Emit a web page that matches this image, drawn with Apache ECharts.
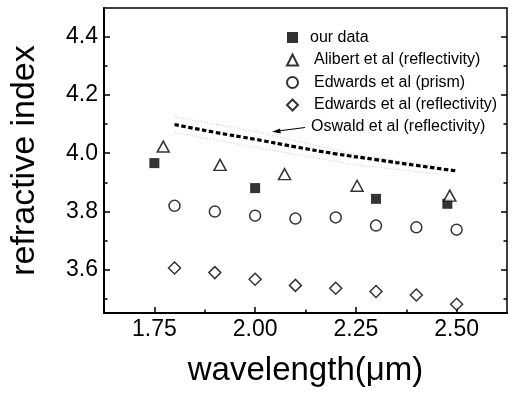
<!DOCTYPE html>
<html>
<head>
<meta charset="utf-8">
<script src="https://cdn.jsdelivr.net/npm/echarts@6/dist/echarts.min.js"></script>
<style>
  html, body { margin: 0; padding: 0; background: #fff; }
  #chart { width: 515px; height: 396px; }
</style>
</head>
<body>
<div id="chart"></div>
<script>
// values
const ourX = [1.75, 2.00, 2.30, 2.477];
const ourY = [3.966, 3.880, 3.843, 3.826];
const alibertX = [1.772, 1.913, 2.073, 2.253, 2.483];
const alibertY = [4.023, 3.960, 3.928, 3.888, 3.854];
const edwardsX = [1.80, 1.90, 2.00, 2.10, 2.20, 2.30, 2.40, 2.50];
const prismY = [3.819, 3.799, 3.785, 3.775, 3.779, 3.751, 3.745, 3.737];
const reflY = [3.605, 3.589, 3.566, 3.545, 3.535, 3.524, 3.512, 3.480];
const oswaldX = [1.80, 1.90, 2.00, 2.10, 2.20, 2.30, 2.40, 2.50];
const oswaldY = [4.099, 4.072, 4.048, 4.022, 3.998, 3.978, 3.958, 3.939];
const upperX = [1.80, 2.00, 2.25, 2.45];
const upperY = [4.125, 4.075, 3.995, 3.955];
const lowerX = [1.80, 2.00, 2.25, 2.45];
const lowerY = [4.072, 4.020, 3.960, 3.930];

const xMajor = [1.75, 2.00, 2.25, 2.50];
const xMinor = [1.875, 2.125, 2.375];
const yMajor = [3.6, 3.8, 4.0, 4.2, 4.4];
const yMinor = [3.5, 3.7, 3.9, 4.1, 4.3];

const zip = (xs, ys) => xs.map((x, i) => [x, ys[i]]);
const font = 'Liberation Sans';

const chart = echarts.init(document.getElementById('chart'));

function xAxisDef(ticks, len, withLabel) {
  return {
    type: 'value', position: 'bottom', min: 1.625, max: 2.625,
    axisLine: { show: withLabel, lineStyle: { color: '#000', width: 2 } },
    axisTick: { show: true, inside: true, length: len, customValues: ticks,
      lineStyle: { color: '#000', width: 1.5 } },
    axisLabel: { show: withLabel, customValues: ticks, margin: 5,
      formatter: v => v.toFixed(2), color: '#000', fontSize: 23, fontFamily: font },
    splitLine: { show: false },
    name: withLabel ? 'wavelength(\u03bcm)' : '',
    nameLocation: 'middle', nameGap: 41,
    nameTextStyle: { color: '#000', fontSize: 33, fontFamily: font }
  };
}

function yAxisDef(pos, ticks, len, withLabel) {
  return {
    type: 'value', position: pos, min: 3.45, max: 4.5,
    axisLine: { show: withLabel, lineStyle: { color: '#000', width: 2 } },
    axisTick: { show: true, inside: true, length: len, customValues: ticks,
      lineStyle: { color: '#000', width: 1.5 } },
    axisLabel: { show: withLabel, customValues: ticks, margin: 6,
      formatter: v => v.toFixed(1), color: '#000', fontSize: 23, fontFamily: font },
    splitLine: { show: false },
    name: withLabel ? 'refractive index' : '',
    nameLocation: 'middle', nameGap: 62,
    nameTextStyle: { color: '#000', fontSize: 34, fontFamily: font }
  };
}

const hollow = { color: '#fff', borderColor: '#000', borderWidth: 1.5 };

const option = {
  backgroundColor: '#fff',
  animation: false,
  grid: { left: 104, right: 8, top: 8, bottom: 83, show: true,
    borderColor: '#000', borderWidth: 1.5, backgroundColor: 'transparent' },
  xAxis: [
    xAxisDef(xMajor, 6, true),
    xAxisDef(xMinor, 3.5, false)
  ],
  yAxis: [
    yAxisDef('left', yMajor, 6, true),
    yAxisDef('left', yMinor, 3.5, false),
    yAxisDef('right', yMajor, 6, false),
    yAxisDef('right', yMinor, 3.5, false)
  ],
  legend: {
    orient: 'vertical', left: 281, top: 24,
    itemWidth: 11, itemHeight: 11, itemGap: 5.5,
    textStyle: { color: '#000', fontSize: 16, fontFamily: font, lineHeight: 17, padding: [0, 0, 0, 11] },
    data: [
      { name: 'our data', textStyle: { padding: [0, 0, 0, 7] } },
      'Alibert et al (reflectivity)',
      'Edwards et al (prism)',
      'Edwards et al (reflectivity)'
    ]
  },
  graphic: [
    { type: 'text', left: 311, top: 119,
      style: { text: 'Oswald et al (reflectivity)', fill: '#000', fontSize: 16, fontFamily: font } },
    { type: 'line', shape: { x1: 305, y1: 127.5, x2: 278, y2: 131 },
      style: { stroke: '#000', lineWidth: 1.2 } },
    { type: 'polygon', shape: { points: [[272, 131.8], [280, 128.6], [280.8, 133.4]] },
      style: { fill: '#000' } }
  ],
  series: [
    { name: 'oswald upper', type: 'line', data: zip(upperX, upperY), symbol: 'none', silent: true,
      lineStyle: { color: '#c4c4c4', width: 1, type: [1, 2] } },
    { name: 'oswald lower', type: 'line', data: zip(lowerX, lowerY), symbol: 'none', silent: true,
      lineStyle: { color: '#c4c4c4', width: 1, type: [1, 2] } },
    { name: 'Oswald et al (reflectivity)', type: 'line', data: zip(oswaldX, oswaldY), symbol: 'none',
      smooth: true, lineStyle: { color: '#000', width: 3.2, type: [4.5, 2.5] } },
    { name: 'our data', type: 'scatter', data: zip(ourX, ourY), symbol: 'rect', symbolSize: 10,
      itemStyle: { color: '#000' } },
    { name: 'Alibert et al (reflectivity)', type: 'scatter', data: zip(alibertX, alibertY),
      symbol: 'triangle', symbolSize: [12, 11], itemStyle: hollow },
    { name: 'Edwards et al (prism)', type: 'scatter', data: zip(edwardsX, prismY),
      symbol: 'circle', symbolSize: 11, itemStyle: hollow },
    { name: 'Edwards et al (reflectivity)', type: 'scatter', data: zip(edwardsX, reflY),
      symbol: 'diamond', symbolSize: 12, itemStyle: hollow }
  ]
};

chart.setOption(option);
</script>
</body>
</html>
